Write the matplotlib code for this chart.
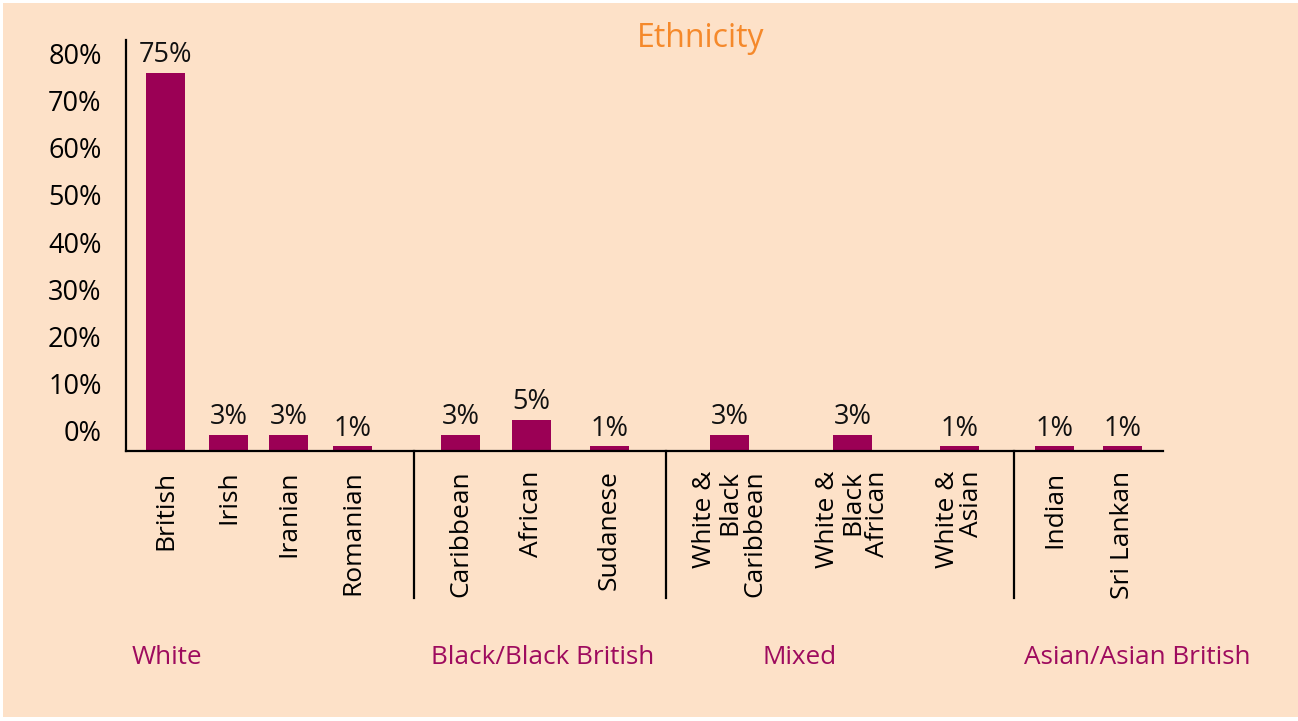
import matplotlib
matplotlib.use("Agg")
import matplotlib.pyplot as plt
from matplotlib.patches import Rectangle

# ---------------- data ----------------
categories = ["British", "Irish", "Iranian", "Romanian",
              "Caribbean", "African", "Sudanese",
              "White &\nBlack\nCaribbean", "White &\nBlack\nAfrican", "White &\nAsian",
              "Indian", "Sri Lankan"]
bar_heights = [75, 3.2, 3.2, 1, 3.2, 6.2, 1, 3.2, 3.2, 1, 1, 1]
value_labels = ["75%", "3%", "3%", "1%", "3%", "5%", "1%", "3%", "3%", "1%", "1%", "1%"]
groups = ["White", "Black/Black British", "Mixed", "Asian/Asian British"]
y_ticks = [0, 10, 20, 30, 40, 50, 60, 70, 80]
y_tick_labels = ["0%", "10%", "20%", "30%", "40%", "50%", "60%", "70%", "80%"]
title = "Ethnicity"

# ---------------- layout (slot positions along the axis) ----------------
bar_pos = [39.5, 102.5, 162.5, 226.5, 334.5, 405.5, 483.5, 603.5, 726.5, 833.5, 928.5, 996.5]
sep_pos = [288, 540, 888]
group_pos = [40.5, 417, 674, 1011.5]
bar_w = 39

BG = "#FDE1C8"
BAR = "#9B0055"
GRP = "#9E0B5E"
ORANGE = "#F5892B"
FONT = ["Open Sans", "DejaVu Sans"]
plt.rcParams["font.family"] = FONT
FS = 19.5

W, H = 1298, 721
fig = plt.figure(figsize=(W / 100, H / 100), dpi=100, facecolor="white")
fig.patches.append(Rectangle((3 / W, 4 / H), 1 - 3 / W, 1 - 7 / H,
                             transform=fig.transFigure, facecolor=BG,
                             edgecolor="none", zorder=-10))

ax_l, ax_r, ax_b, ax_t = 126, 1163, 451, 40
ax = fig.add_axes([ax_l / W, 1 - ax_b / H, (ax_r - ax_l) / W, (ax_b - ax_t) / H])
ax.patch.set_alpha(0)
ax.set_xlim(0, ax_r - ax_l)
ax.set_ylim(0, 81.5)

ax.bar(bar_pos, bar_heights, width=bar_w, color=BAR, zorder=2)
for x, h, lab in zip(bar_pos, bar_heights, value_labels):
    ax.annotate(lab, (x, h), xytext=(0, 7.5), textcoords="offset points",
                ha="center", va="baseline", fontsize=FS, color="#111111")

for s in ["top", "right"]:
    ax.spines[s].set_visible(False)
for s in ["left", "bottom"]:
    ax.spines[s].set_linewidth(1.6)
    ax.spines[s].set_color("black")
ax.spines["bottom"].set_zorder(3)

ax.set_yticks([])
ax.set_xticks(bar_pos)
ax.set_xticklabels(categories, rotation=90, ha="center", va="top",
                   multialignment="right", fontsize=19, linespacing=1.0)
ax.tick_params(axis="x", length=0, pad=14)

# separators between groups
xt = ax.get_xaxis_transform()
for s in sep_pos:
    ax.plot([s, s], [0, -147 / (ax_b - ax_t)], color="black", lw=1.6,
            transform=xt, clip_on=False)

# group labels
for g, x in zip(groups, group_pos):
    ax.text(x, -(658 - ax_b) / (ax_b - ax_t), g, transform=xt, ha="center",
            va="center", fontsize=18.8, color=GRP)

# y tick labels (as drawn in the original: offset from the bars' scale)
ay = ax.twinx()
ay.set_position(ax.get_position())
ay.patch.set_alpha(0)
for s in ay.spines.values():
    s.set_visible(False)
ay.set_ylim(-4.24, 82.8)
ay.yaxis.set_ticks_position("left")
ay.set_yticks(y_ticks)
ay.set_yticklabels(y_tick_labels, fontsize=FS)
ay.tick_params(axis="y", length=0, pad=17.5, left=True, right=False,
               labelleft=True, labelright=False)

fig.text(700.5 / W, 1 - 47 / H, title, ha="center", va="baseline",
         fontsize=23, color=ORANGE)

fig.savefig("out.png", dpi=100, facecolor=fig.get_facecolor())
